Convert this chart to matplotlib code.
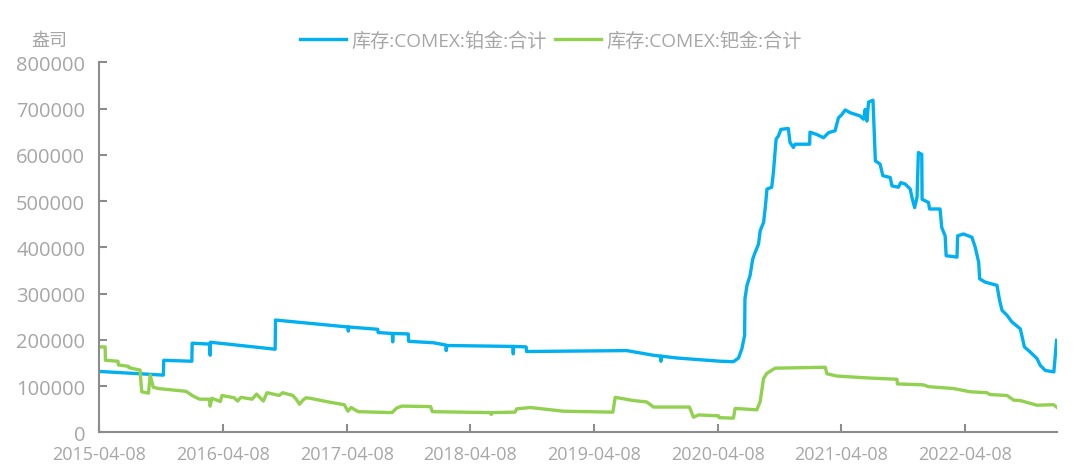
import matplotlib
matplotlib.use("Agg")
import matplotlib.pyplot as plt
import pandas as pd

plt.rcParams['font.family'] = ['Open Sans', 'Noto Sans CJK SC', 'DejaVu Sans']

unit_label = "盎司"
series_names = ["库存:COMEX:铂金:合计", "库存:COMEX:钯金:合计"]
x_tick_labels = ["2015-04-08", "2016-04-08", "2017-04-08", "2018-04-08",
                 "2019-04-08", "2020-04-08", "2021-04-08", "2022-04-08"]
y_ticks = [0, 100000, 200000, 300000, 400000, 500000, 600000, 700000, 800000]

# Platinum (铂金) inventory
pt_dates = [
    "2015-04-08", "2015-10-15", "2015-10-16", "2016-01-07", "2016-01-08", "2016-02-29",
    "2016-03-01", "2016-03-02", "2016-09-09", "2016-09-10", "2017-04-12", "2017-04-13",
    "2017-04-14", "2017-07-09", "2017-07-10", "2017-08-21", "2017-08-22", "2017-08-23",
    "2017-10-07", "2017-10-08", "2017-12-20", "2018-01-26", "2018-01-27", "2018-01-29",
    "2018-08-12", "2018-08-13", "2018-08-14", "2018-09-20", "2018-09-21", "2019-07-14",
    "2019-09-30", "2019-10-22", "2019-10-23", "2019-10-24", "2019-12-09", "2020-04-15",
    "2020-05-24", "2020-06-08", "2020-06-18", "2020-06-26", "2020-06-27", "2020-07-03",
    "2020-07-12", "2020-07-20", "2020-07-27", "2020-08-06", "2020-08-11", "2020-08-21",
    "2020-08-26", "2020-08-31", "2020-09-14", "2020-09-19", "2020-09-27", "2020-10-04",
    "2020-10-11", "2020-11-02", "2020-11-07", "2020-11-17", "2020-11-22", "2021-01-04",
    "2021-01-05", "2021-01-25", "2021-02-14", "2021-03-01", "2021-03-20", "2021-03-30",
    "2021-04-09", "2021-04-19", "2021-05-04", "2021-06-02", "2021-06-12", "2021-06-17",
    "2021-06-22", "2021-06-27", "2021-07-10", "2021-07-17", "2021-07-31", "2021-08-08",
    "2021-08-30", "2021-09-04", "2021-09-23", "2021-09-30", "2021-10-13", "2021-10-28",
    "2021-11-02", "2021-11-10", "2021-11-17", "2021-11-21", "2021-12-01", "2021-12-02",
    "2021-12-21", "2021-12-24", "2022-01-24", "2022-01-29", "2022-02-08", "2022-02-11",
    "2022-03-15", "2022-03-17", "2022-04-03", "2022-04-28", "2022-05-08", "2022-05-18",
    "2022-05-21", "2022-06-06", "2022-07-11", "2022-07-19", "2022-07-26", "2022-08-10",
    "2022-08-24", "2022-09-18", "2022-09-30", "2022-10-17", "2022-11-06", "2022-11-16",
    "2022-12-01", "2022-12-26", "2023-01-03",
]
pt_values = [
    132000, 124000, 156000, 154000, 193000, 191000,
    167000, 195000, 180000, 243000, 228000, 219000,
    228000, 223000, 216000, 214000, 196000, 214000,
    213000, 197000, 194000, 189000, 177000, 188000,
    186000, 170000, 186000, 185000, 175000, 177000,
    167000, 165000, 154000, 165000, 161000, 154000,
    153000, 161000, 181000, 210000, 289000, 318000,
    339000, 375000, 389000, 407000, 436000, 454000,
    486000, 526000, 530000, 562000, 634000, 641000,
    655000, 657000, 627000, 616000, 623000, 623000,
    649000, 644000, 637000, 648000, 652000, 680000,
    687000, 697000, 691000, 684000, 677000, 698000,
    673000, 714000, 718000, 587000, 580000, 555000,
    551000, 533000, 530000, 540000, 537000, 526000,
    508000, 486000, 508000, 605000, 601000, 504000,
    497000, 483000, 483000, 443000, 425000, 382000,
    379000, 425000, 429000, 422000, 400000, 368000,
    332000, 325000, 318000, 285000, 264000, 253000,
    239000, 224000, 185000, 174000, 160000, 145000,
    134000, 131000, 199000,
]

# Palladium (钯金) inventory
pd_dates = [
    "2015-04-08", "2015-04-26", "2015-04-27", "2015-06-03", "2015-06-04", "2015-07-04",
    "2015-07-05", "2015-08-07", "2015-08-12", "2015-09-01", "2015-09-06", "2015-09-15",
    "2015-09-30", "2015-12-21", "2016-01-10", "2016-01-30", "2016-02-28", "2016-03-01",
    "2016-03-06", "2016-03-31", "2016-04-05", "2016-05-11", "2016-05-21", "2016-05-31",
    "2016-07-03", "2016-07-16", "2016-08-05", "2016-08-16", "2016-09-21", "2016-10-01",
    "2016-10-31", "2016-11-09", "2016-11-20", "2016-11-30", "2016-12-09", "2016-12-21",
    "2017-02-13", "2017-04-01", "2017-04-12", "2017-04-21", "2017-05-12", "2017-08-20",
    "2017-09-03", "2017-09-18", "2017-12-12", "2017-12-17", "2018-06-08", "2018-06-09",
    "2018-06-10", "2018-08-18", "2018-08-23", "2018-10-02", "2019-01-08", "2019-06-03",
    "2019-06-10", "2019-08-03", "2019-09-11", "2019-10-01", "2020-01-15", "2020-01-27",
    "2020-02-11", "2020-04-10", "2020-04-12", "2020-05-24", "2020-05-29", "2020-08-01",
    "2020-08-11", "2020-08-21", "2020-08-31", "2020-09-24", "2021-02-19", "2021-02-24",
    "2021-03-25", "2021-06-22", "2021-09-19", "2021-09-20", "2021-12-06", "2021-12-21",
    "2022-03-05", "2022-04-23", "2022-06-11", "2022-06-21", "2022-08-10", "2022-08-29",
    "2022-09-18", "2022-11-06", "2022-12-25", "2023-01-03",
]
pd_values = [
    185000, 185000, 156000, 154000, 146000, 143000,
    140000, 135000, 88000, 85000, 124000, 98000,
    95000, 89000, 79000, 72000, 72000, 57000,
    74000, 67000, 80000, 75000, 68000, 76000,
    72000, 83000, 68000, 86000, 80000, 86000,
    80000, 73000, 61000, 70000, 75000, 74000,
    66000, 60000, 46000, 54000, 45000, 43000,
    53000, 57000, 56000, 45000, 43000, 39000,
    43000, 44000, 51000, 54000, 46000, 44000,
    76000, 69000, 66000, 55000, 55000, 33000,
    38000, 36000, 32000, 31000, 52000, 49000,
    67000, 117000, 128000, 139000, 141000, 127000,
    122000, 118000, 115000, 105000, 103000, 99000,
    95000, 88000, 86000, 82000, 80000, 70000,
    69000, 59000, 60000, 55000,
]

blue = "#00B0F0"
green = "#92D050"
text_grey = "#A6A6A6"
axis_grey = "#8C8C8C"

fig = plt.figure(figsize=(10.8, 4.77), dpi=100)
ax = fig.add_axes([0.0917, 0.0912, 0.8866, 0.7761])

ax.plot(pd.to_datetime(pt_dates), pt_values, color=blue, lw=2.4, label=series_names[0],
        solid_joinstyle="round")
ax.plot(pd.to_datetime(pd_dates), pd_values, color=green, lw=2.4, label=series_names[1],
        solid_joinstyle="round")

ax.set_xlim(pd.Timestamp("2015-04-08"), pd.Timestamp("2023-01-03"))
ax.set_ylim(0, 800000)
ax.set_yticks(y_ticks)
ax.set_yticklabels([str(v) for v in y_ticks])
ax.set_xticks(pd.to_datetime(x_tick_labels))
ax.set_xticklabels(x_tick_labels)

for s in ["top", "right"]:
    ax.spines[s].set_visible(False)
for s in ["left", "bottom"]:
    ax.spines[s].set_color(axis_grey)
    ax.spines[s].set_linewidth(1.5)

ax.tick_params(axis="both", direction="in", length=6, width=1.5, color=axis_grey,
               labelcolor=text_grey)
ax.tick_params(axis="y", pad=10, labelsize=14.5)
ax.tick_params(axis="x", pad=9, labelsize=13)

fig.text(0.046, 0.915, unit_label, color=text_grey, fontsize=13, ha="center", va="center")

leg = fig.legend(loc="center", bbox_to_anchor=(0.51, 0.912), ncol=2, frameon=False,
                 fontsize=13.8, handlelength=2.4, handletextpad=0.3, columnspacing=0.4,
                 borderaxespad=0)
for t in leg.get_texts():
    t.set_color(text_grey)

fig.savefig("out.png", dpi=100)
